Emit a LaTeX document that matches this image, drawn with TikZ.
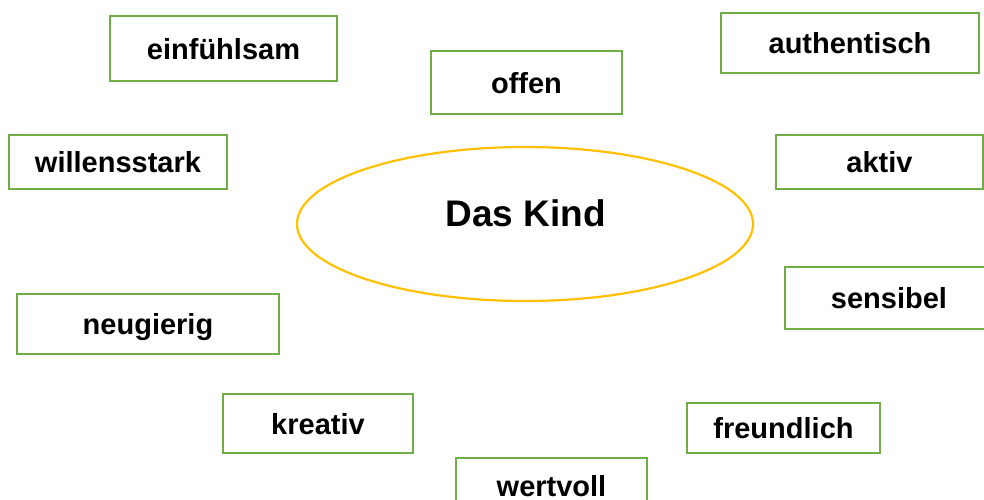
\documentclass[tikz,border=0pt]{standalone}
\usepackage{fontspec}
\setmainfont{Liberation Sans}
\usetikzlibrary{shapes.geometric}
\definecolor{boxgreen}{HTML}{70AD47}
\definecolor{ellyellow}{HTML}{FFC000}
\tikzset{
  wordbox/.style={draw=boxgreen, line width=2.5pt, rectangle, inner sep=0pt,
    font=\fontsize{29}{34}\selectfont\bfseries, text height=21pt, text depth=0pt, align=center},
  centre/.style={draw=ellyellow, line width=2.2pt, ellipse, inner sep=0pt}
}
\begin{document}
\begin{tikzpicture}[x=1pt,y=-1pt]
\useasboundingbox (0,0) rectangle (984,499);
\clip (0,0) rectangle (984,499);
\node[centre, minimum width=456pt, minimum height=154pt] (kind) at (525,224) {};
\node[font=\fontsize{37}{44}\selectfont\bfseries, text height=26.6pt, text depth=0pt, inner sep=0pt] (kindlabel) at (525.5,213.5) {Das Kind};
\node[wordbox, minimum width=227pt, minimum height=65pt] (einf) at (223.5,48.5) {einfühlsam};
\node[wordbox, minimum width=191pt, minimum height=63pt] (offen) at (526.5,82.5) {offen};
\node[wordbox, minimum width=258pt, minimum height=60pt] (auth) at (850,43) {authentisch};
\node[wordbox, minimum width=218pt, minimum height=54pt] (will) at (118,162) {willensstark};
\node[wordbox, minimum width=207pt, minimum height=54pt] (aktiv) at (879.5,162) {aktiv};
\node[wordbox, minimum width=208pt, minimum height=62pt] (sens) at (889,298) {sensibel};
\node[wordbox, minimum width=262pt, minimum height=60pt] (neug) at (148,324) {neugierig};
\node[wordbox, minimum width=190pt, minimum height=59pt] (krea) at (318,423.5) {kreativ};
\node[wordbox, minimum width=193pt, minimum height=50pt] (freu) at (783.5,428) {freundlich};
\node[wordbox, minimum width=191pt, minimum height=56pt] (wert) at (551.5,486) {wertvoll};
\end{tikzpicture}
\end{document}
